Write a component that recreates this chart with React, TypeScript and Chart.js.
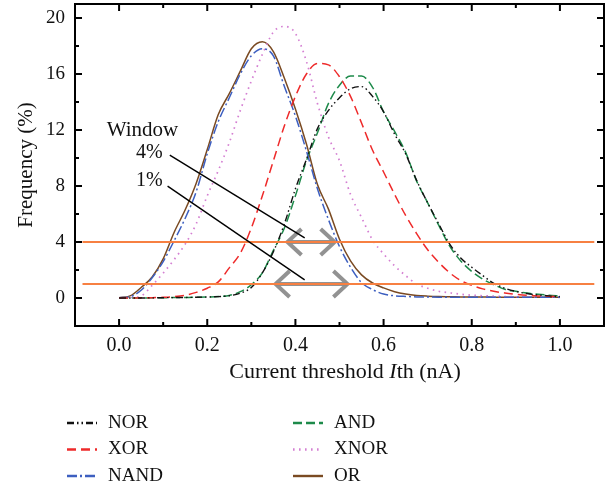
import React, { useEffect, useRef } from "react";
import { Chart, registerables } from "chart.js";

Chart.register(...registerables);

// ---------- data ----------
const thresholds = [
  0, 0.025, 0.05, 0.075, 0.1, 0.125, 0.15, 0.175, 0.2, 0.225,
  0.25, 0.275, 0.3, 0.325, 0.35, 0.375, 0.4, 0.425, 0.45, 0.475,
  0.5, 0.525, 0.55, 0.575, 0.6, 0.625, 0.65, 0.675, 0.7, 0.725,
  0.75, 0.775, 0.8, 0.825, 0.85, 0.875, 0.9, 0.925, 0.95, 0.975, 1.0,
];

const norFreq = [
  0.0, 0.0, 0.0, 0.01, 0.02, 0.03, 0.04, 0.05, 0.07, 0.1,
  0.16, 0.35, 0.75, 1.8, 3.3, 5.3, 7.8, 9.9, 12.1, 13.4,
  14.3, 14.95, 15.1, 14.4, 13.3, 11.7, 10.3, 8.4, 6.8, 5.3,
  3.85, 2.85, 2.2, 1.6, 1.05, 0.7, 0.47, 0.32, 0.22, 0.15, 0.1,
];

const andFreq = [
  0.0, 0.0, 0.0, 0.01, 0.02, 0.03, 0.04, 0.05, 0.07, 0.1,
  0.18, 0.45, 0.95, 1.8, 3.4, 5.0, 7.3, 9.8, 11.8, 13.9,
  15.2, 15.85, 15.85, 15.05, 13.3, 11.9, 10.4, 8.35, 6.8, 5.2,
  3.7, 2.65, 1.9, 1.35, 0.95, 0.62, 0.48, 0.35, 0.27, 0.2, 0.15,
];

const xorFreq = [
  0.0, 0.0, 0.01, 0.02, 0.05, 0.1, 0.2, 0.4, 0.7, 1.15,
  2.15, 3.2, 5.0, 7.3, 9.8, 12.3, 14.4, 16.0, 16.75, 16.65,
  15.8, 14.4, 12.5, 10.55, 9.0, 7.4, 5.9, 4.6, 3.45, 2.55,
  1.8, 1.25, 0.9, 0.65, 0.48, 0.36, 0.27, 0.2, 0.15, 0.12, 0.1,
];

const xnorFreq = [
  0.0, 0.03, 0.15, 0.9, 1.78, 2.75, 3.85, 5.3, 7.3, 9.1,
  11.1, 13.4, 15.5, 17.4, 19.0, 19.4, 18.9, 16.9, 13.9, 11.5,
  9.8, 7.4, 5.75, 4.15, 3.15, 2.3, 1.6, 1.0, 0.7, 0.48,
  0.37, 0.27, 0.2, 0.16, 0.13, 0.1, 0.09, 0.08, 0.07, 0.06, 0.05,
];

const nandFreq = [
  0.02, 0.1, 0.55, 1.45, 2.6, 4.1, 5.7, 7.6, 10.3, 12.6,
  14.3, 16.0, 17.3, 17.8, 17.3, 15.1, 13.0, 10.5, 7.8, 5.6,
  3.67, 2.2, 1.1, 0.6, 0.28, 0.16, 0.11, 0.08, 0.07, 0.06,
  0.06, 0.06, 0.05, 0.05, 0.05, 0.05, 0.05, 0.05, 0.05, 0.05, 0.05,
];

const orFreq = [
  0.02, 0.15, 0.75, 1.5, 2.8, 4.7, 6.3, 8.2, 10.6, 13.1,
  14.6, 16.2, 17.8, 18.3, 17.6, 15.7, 13.5, 11.0, 8.1, 6.35,
  4.2, 2.65, 1.65, 1.07, 0.72, 0.45, 0.28, 0.18, 0.13, 0.1,
  0.09, 0.08, 0.07, 0.07, 0.06, 0.06, 0.06, 0.05, 0.05, 0.05, 0.05,
];

const xMajorTicks = [0, 0.2, 0.4, 0.6, 0.8, 1.0];
const xMinorTicks = [0.1, 0.3, 0.5, 0.7, 0.9];
const yMajorTicks = [0, 4, 8, 12, 16, 20];
const yMinorTicks = [2, 6, 10, 14, 18];

// window levels (%) with the horizontal reference lines and arrow spans
const windowLevels = [4, 1];
const windowLineFrom = [-0.083, -0.083];
const windowLineTo = [1.078, 1.078];
const arrowFrom = [0.382, 0.355];
const arrowTo = [0.489, 0.518];
const windowLabels = ["4%", "1%"];
const labelAnchorX = [0.099, 0.099];
const labelAnchorY = [10.41, 8.35];
const pointerFromX = [0.115, 0.11];
const pointerFromY = [10.2, 7.99];
const pointerToX = [0.421, 0.421];
const pointerToY = [4.29, 1.3];
const windowTitle = "Window";
const windowTitleAt = [-0.028, 12.0];

const seriesNames = ["NOR", "XOR", "NAND", "AND", "XNOR", "OR"];

// ---------- styles ----------
const FONT = '"Liberation Serif", "Times New Roman", serif';
const seriesStyle: Record<string, { color: string; dash: number[]; width: number }> = {
  NOR: { color: "#111111", dash: [7, 3, 1.5, 3, 1.5, 3], width: 1.4 },
  XOR: { color: "#ee2a2a", dash: [9, 5], width: 1.5 },
  NAND: { color: "#3d5fc0", dash: [10, 3, 2, 3], width: 1.5 },
  AND: { color: "#1d8a4a", dash: [9, 4], width: 1.5 },
  XNOR: { color: "#d47fd2", dash: [1.6, 4.4], width: 1.7 },
  OR: { color: "#7a4a22", dash: [], width: 1.5 },
};
const seriesValues: Record<string, number[]> = {
  NOR: norFreq,
  XOR: xorFreq,
  NAND: nandFreq,
  AND: andFreq,
  XNOR: xnorFreq,
  OR: orFreq,
};
const ORANGE = "rgb(247,128,66)";

const decorPlugin = {
  id: "decor",
  beforeDatasetsDraw(chart: any) {
    const { ctx, scales } = chart;
    const x = scales.x;
    const y = scales.y;
    ctx.save();
    ctx.strokeStyle = "rgba(140,140,140,0.95)";
    ctx.lineWidth = 4;
    ctx.lineJoin = "miter";
    windowLevels.forEach((lv, i) => {
      const yp = y.getPixelForValue(lv);
      const x0 = x.getPixelForValue(arrowFrom[i]);
      const x1 = x.getPixelForValue(arrowTo[i]);
      ctx.beginPath();
      ctx.moveTo(x0, yp);
      ctx.lineTo(x1, yp);
      ctx.stroke();
      ctx.beginPath();
      ctx.moveTo(x0 + 14, yp - 13);
      ctx.lineTo(x0, yp);
      ctx.lineTo(x0 + 14, yp + 13);
      ctx.stroke();
      ctx.beginPath();
      ctx.moveTo(x1 - 14, yp - 13);
      ctx.lineTo(x1, yp);
      ctx.lineTo(x1 - 14, yp + 13);
      ctx.stroke();
    });
    ctx.restore();
  },
  afterDatasetsDraw(chart: any) {
    const { ctx, scales, chartArea } = chart;
    const x = scales.x;
    const y = scales.y;
    ctx.save();
    // pointer lines and labels
    ctx.strokeStyle = "#000";
    ctx.lineWidth = 1.4;
    ctx.setLineDash([]);
    windowLevels.forEach((_, i) => {
      ctx.beginPath();
      ctx.moveTo(x.getPixelForValue(pointerFromX[i]), y.getPixelForValue(pointerFromY[i]));
      ctx.lineTo(x.getPixelForValue(pointerToX[i]), y.getPixelForValue(pointerToY[i]));
      ctx.stroke();
    });
    ctx.fillStyle = "#111";
    ctx.textBaseline = "middle";
    ctx.textAlign = "left";
    ctx.font = `21px ${FONT}`;
    ctx.fillText(windowTitle, x.getPixelForValue(windowTitleAt[0]), y.getPixelForValue(windowTitleAt[1]));
    ctx.font = `20px ${FONT}`;
    ctx.textAlign = "right";
    windowLabels.forEach((t, i) => {
      ctx.fillText(t, x.getPixelForValue(labelAnchorX[i]), y.getPixelForValue(labelAnchorY[i]));
    });

    // frame
    const { left, right, top, bottom } = chartArea;
    ctx.strokeStyle = "#000";
    ctx.lineWidth = 2;
    ctx.strokeRect(left, top, right - left, bottom - top);
    // inward ticks
    const tick = (px: number, len: number, horizontal: boolean) => {
      ctx.beginPath();
      if (horizontal) {
        ctx.moveTo(px, bottom);
        ctx.lineTo(px, bottom - len);
        ctx.moveTo(px, top);
        ctx.lineTo(px, top + len);
      } else {
        ctx.moveTo(left, px);
        ctx.lineTo(left + len, px);
        ctx.moveTo(right, px);
        ctx.lineTo(right - len, px);
      }
      ctx.stroke();
    };
    xMajorTicks.forEach((v) => tick(x.getPixelForValue(v), 7, true));
    xMinorTicks.forEach((v) => tick(x.getPixelForValue(v), 4, true));
    yMajorTicks.forEach((v) => tick(y.getPixelForValue(v), 7, false));
    yMinorTicks.forEach((v) => tick(y.getPixelForValue(v), 4, false));
    ctx.restore();
  },
  afterDraw(chart: any) {
    const { ctx, chartArea } = chart;
    ctx.save();
    ctx.fillStyle = "#111";
    // y title
    ctx.font = `21px ${FONT}`;
    ctx.textAlign = "center";
    ctx.textBaseline = "middle";
    ctx.translate(26, (chartArea.top + chartArea.bottom) / 2);
    ctx.rotate(-Math.PI / 2);
    ctx.fillText("Frequency (%)", 0, 0);
    ctx.restore();

    // x title with italic I
    ctx.save();
    ctx.fillStyle = "#111";
    ctx.textBaseline = "middle";
    ctx.textAlign = "left";
    const parts = [
      { t: "Current threshold ", f: `22px ${FONT}` },
      { t: "I", f: `italic 22px ${FONT}` },
      { t: "th (nA)", f: `22px ${FONT}` },
    ];
    let total = 0;
    parts.forEach((p) => {
      ctx.font = p.f;
      total += ctx.measureText(p.t).width;
    });
    let cx = 345 - total / 2;
    parts.forEach((p) => {
      ctx.font = p.f;
      ctx.fillText(p.t, cx, 372);
      cx += ctx.measureText(p.t).width;
    });

    // legend (two columns)
    const cols = [
      { lx0: 67, lx1: 97, tx: 108 },
      { lx0: 293, lx1: 323, tx: 334 },
    ];
    const rows = [423, 449.5, 476];
    const order = [
      ["NOR", "XOR", "NAND"],
      ["AND", "XNOR", "OR"],
    ];
    ctx.font = `19px ${FONT}`;
    order.forEach((col, ci) => {
      col.forEach((name, ri) => {
        const st = seriesStyle[name];
        const c = cols[ci];
        ctx.strokeStyle = st.color;
        ctx.lineWidth = 2.4;
        ctx.setLineDash(st.dash);
        ctx.beginPath();
        ctx.moveTo(c.lx0, rows[ri]);
        ctx.lineTo(c.lx1, rows[ri]);
        ctx.stroke();
        ctx.setLineDash([]);
        ctx.fillStyle = "#111";
        ctx.fillText(name, c.tx, rows[ri]);
      });
    });
    ctx.restore();
  },
};

export default function App() {
  const canvasRef = useRef<HTMLCanvasElement | null>(null);

  useEffect(() => {
    if (!canvasRef.current) return;
    const curveSets = seriesNames.map((name) => ({
      label: name,
      data: thresholds.map((t, i) => ({ x: t, y: seriesValues[name][i] })),
      borderColor: seriesStyle[name].color,
      borderDash: seriesStyle[name].dash,
      borderWidth: seriesStyle[name].width,
      pointRadius: 0,
      fill: false,
      cubicInterpolationMode: "monotone" as const,
      order: 2,
    }));
    const levelSets = windowLevels.map((lv, i) => ({
      label: `level ${lv}`,
      data: [
        { x: windowLineFrom[i], y: lv },
        { x: windowLineTo[i], y: lv },
      ],
      borderColor: ORANGE,
      borderWidth: 2,
      pointRadius: 0,
      fill: false,
      order: 1,
    }));

    const chart = new Chart(canvasRef.current, {
      type: "line",
      data: { datasets: [...curveSets, ...levelSets] as any },
      plugins: [decorPlugin as any],
      options: {
        responsive: false,
        animation: false,
        devicePixelRatio: 1,
        layout: { padding: { top: 4, right: 6, left: 0, bottom: 0 } },
        plugins: { legend: { display: false }, tooltip: { enabled: false } },
        scales: {
          x: {
            type: "linear",
            min: -0.1,
            max: 1.1,
            grid: { display: false, drawTicks: false },
            border: { display: false },
            afterBuildTicks: (s: any) => {
              s.ticks = xMajorTicks.map((v) => ({ value: v }));
            },
            afterFit: (s: any) => {
              s.height = 161;
              s.paddingLeft = 0;
              s.paddingRight = 0;
              s.paddingTop = 0;
              s.paddingBottom = 0;
            },
            ticks: {
              padding: 8,
              maxRotation: 0,
              color: "#111",
              font: { family: FONT, size: 20 },
              callback: (v: any) => Number(v).toFixed(1),
            },
          },
          y: {
            type: "linear",
            min: -2,
            max: 21,
            grid: { display: false, drawTicks: false },
            border: { display: false },
            afterBuildTicks: (s: any) => {
              s.ticks = yMajorTicks.map((v) => ({ value: v }));
            },
            afterFit: (s: any) => {
              s.width = 75;
              s.paddingLeft = 0;
              s.paddingRight = 0;
              s.paddingTop = 0;
              s.paddingBottom = 0;
            },
            ticks: {
              padding: 10,
              color: "#111",
              font: { family: FONT, size: 19 },
              callback: (v: any) => String(v),
            },
          },
        },
      } as any,
    });
    return () => chart.destroy();
  }, []);

  return (
    <div style={{ position: "absolute", left: 0, top: 0, width: 610, height: 487, background: "#fff" }}>
      <canvas ref={canvasRef} width={610} height={487} style={{ display: "block", width: 610, height: 487 }} />
    </div>
  );
}
